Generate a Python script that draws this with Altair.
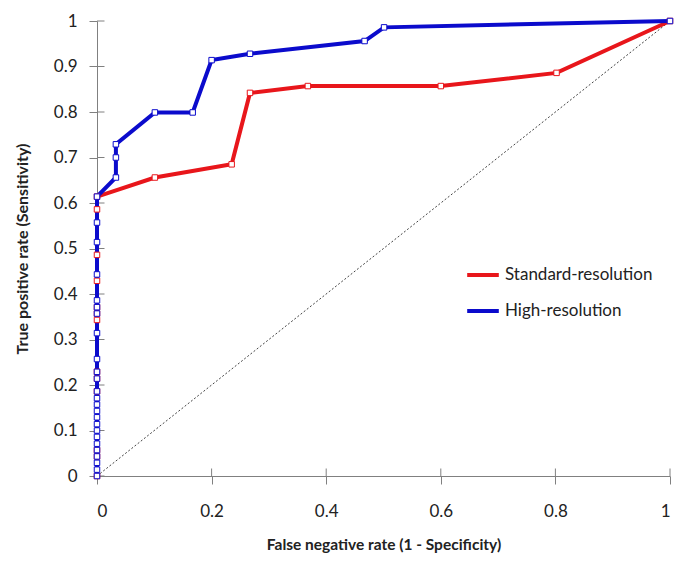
import altair as alt
import pandas as pd

series_names = ["Standard-resolution", "High-resolution"]
colors = ["#E8161B", "#0B0BCC"]

red_x = [0, 0, 0, 0, 0, 0, 0, 0, 0, 0, 0, 0, 0,
         0.101, 0.235, 0.267, 0.368, 0.600, 0.802, 1.0]
red_y = [0, 0.043, 0.057, 0.186, 0.214, 0.229, 0.343, 0.357, 0.371, 0.429, 0.486, 0.586, 0.614,
         0.656, 0.685, 0.842, 0.857, 0.857, 0.886, 1.0]

blue_x = [0] * 25 + [0.033, 0.033, 0.033, 0.101, 0.167, 0.200, 0.267, 0.467, 0.501, 1.0]
blue_y = [0, 0.014, 0.029, 0.043, 0.057, 0.071, 0.086, 0.1, 0.114, 0.129, 0.143, 0.157,
          0.171, 0.186, 0.214, 0.229, 0.257, 0.314, 0.357, 0.371, 0.386, 0.443, 0.514,
          0.557, 0.614,
          0.656, 0.700, 0.729, 0.799, 0.799, 0.914, 0.928, 0.956, 0.986, 1.0]

diag_x = [0, 1]
diag_y = [0, 1]

x_ticks = [0, 0.2, 0.4, 0.6, 0.8, 1.0]
y_ticks = [0, 0.1, 0.2, 0.3, 0.4, 0.5, 0.6, 0.7, 0.8, 0.9, 1.0]

W, H = 573, 455
TICK = 7.5  # half tick length in pixels

rows = []
for i, (x, y) in enumerate(zip(red_x, red_y)):
    rows.append({"series": series_names[0], "x": x, "y": y, "i": i, "s": 0})
for i, (x, y) in enumerate(zip(blue_x, blue_y)):
    rows.append({"series": series_names[1], "x": x, "y": y, "i": i, "s": 1})
df = pd.DataFrame(rows)
diag = pd.DataFrame({"x": diag_x, "y": diag_y})
xt = pd.DataFrame({"tx": x_ticks})
yt = pd.DataFrame({"ty": y_ticks})

FONT = "Lato"
AX = "#808080"

xscale = alt.Scale(domain=[0, 1], nice=False)
yscale = alt.Scale(domain=[0, 1], nice=False)

xaxis = alt.Axis(values=x_ticks, format="~g", title="False negative rate (1 - Specificity)",
                 grid=False, ticks=True, tickSize=8, tickColor=AX, domainColor=AX,
                 labelFont=FONT, labelFontSize=17,
                 labelColor="#222", labelPadding=19, titleFont=FONT, titleFontSize=15.5,
                 titleFontWeight="bold", titleColor="#222", titlePadding=18)
yaxis = alt.Axis(values=y_ticks, format="~g", title="True positive rate (Sensitivity)",
                 grid=False, ticks=True, tickSize=8, tickColor=AX, domainColor=AX,
                 labelFont=FONT, labelFontSize=17,
                 labelColor="#222", labelPadding=12, titleFont=FONT, titleFontSize=16,
                 titleFontWeight="bold", titleColor="#222", titlePadding=23)

diag_layer = alt.Chart(diag).mark_line(color="#444", strokeWidth=1, strokeDash=[2, 2]).encode(
    x=alt.X("x:Q", scale=xscale, axis=xaxis),
    y=alt.Y("y:Q", scale=yscale, axis=yaxis),
)

xtick_layer = alt.Chart(xt).transform_calculate(
    ya="0", yb=f"{TICK}/{H}"
).mark_rule(color=AX, strokeWidth=1).encode(
    x=alt.X("tx:Q", scale=xscale),
    y=alt.Y("ya:Q", scale=yscale),
    y2="yb:Q",
)
ytick_layer = alt.Chart(yt).transform_calculate(
    xa="0", xb=f"{TICK}/{W}"
).mark_rule(color=AX, strokeWidth=1).encode(
    y=alt.Y("ty:Q", scale=yscale),
    x=alt.X("xa:Q", scale=xscale),
    x2="xb:Q",
)

color_enc = alt.Color("series:N", scale=alt.Scale(domain=series_names, range=colors),
                      legend=alt.Legend(title=None, orient="none", legendX=368, legendY=236,
                                        symbolType="stroke", symbolStrokeWidth=4,
                                        symbolSize=1000, labelFont=FONT, labelFontSize=17,
                                        labelColor="#222", rowPadding=10, labelOffset=4))

line_layer = alt.Chart(df).mark_line(strokeWidth=4).encode(
    x=alt.X("x:Q", scale=xscale),
    y=alt.Y("y:Q", scale=yscale),
    color=color_enc,
    order=alt.Order("i:Q"),
)

point_layer = alt.Chart(df).mark_point(shape="square", size=30, strokeWidth=1, opacity=1).encode(
    x=alt.X("x:Q", scale=xscale),
    y=alt.Y("y:Q", scale=yscale),
    stroke=alt.Stroke("series:N", scale=alt.Scale(domain=series_names, range=colors), legend=None),
    fill=alt.value("white"),
    order=alt.Order("s:Q"),
)

chart = alt.layer(diag_layer, xtick_layer, ytick_layer, line_layer, point_layer).properties(
    width=W, height=H,
    autosize=alt.AutoSizeParams(type="none"),
    padding={"left": 89, "top": 13, "right": 19, "bottom": 77},
    background="white",
).configure_view(stroke=None)

chart.save("out.html", embed_options={"renderer": "svg", "actions": False})
